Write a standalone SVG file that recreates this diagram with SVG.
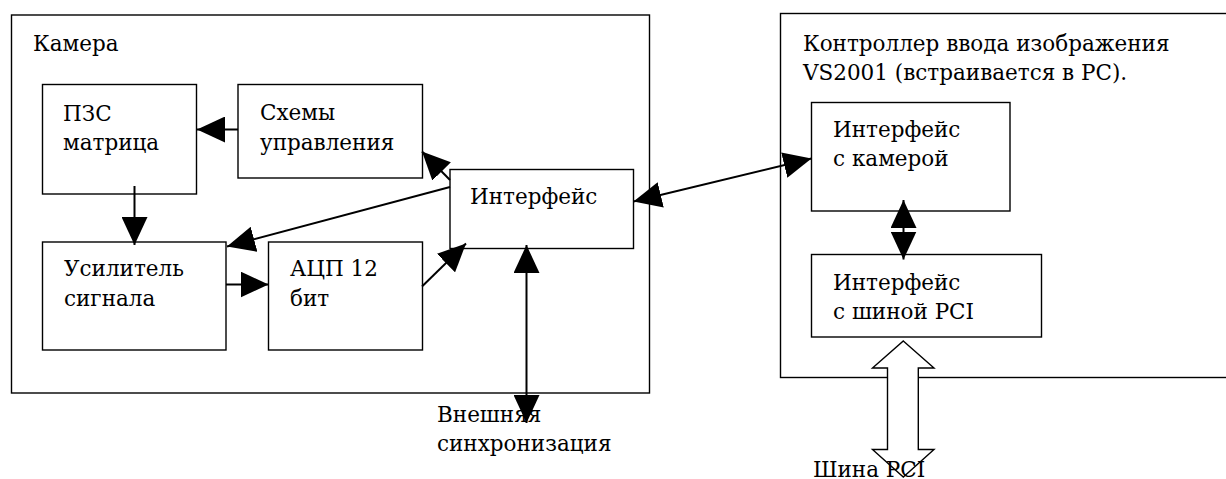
<svg xmlns="http://www.w3.org/2000/svg" width="1226" height="479" viewBox="0 0 1226 479">
<style>
.box{fill:none;stroke:#000;stroke-width:1.4}
.t{font-family:'DejaVu Serif',serif;font-size:21.5px;fill:#000}
.c{fill:none;stroke:#000;stroke-width:2}
</style>
<defs>
<marker id="ah" markerUnits="userSpaceOnUse" markerWidth="28" markerHeight="26" refX="28" refY="13" orient="auto-start-reverse" viewBox="0 0 28 26">
<path d="M0,0 L28,13 L0,26 z" fill="#000"/>
</marker>
</defs>
<rect width="1226" height="479" fill="#fff"/>
<g id="camera">
<rect class="box" x="11.5" y="15" width="638" height="378"/>
<text class="t" x="33" y="51">Камера</text>
</g>
<g id="controller">
<rect class="box" x="780.5" y="13.5" width="460" height="364"/>
<text class="t" x="803" y="51">Контроллер ввода изображения</text>
<text class="t" x="803" y="80">VS2001 (встраивается в PC).</text>
</g>
<g id="ccd">
<rect class="box" x="42.5" y="84.5" width="154" height="109.5"/>
<text class="t" x="63" y="121">ПЗС</text>
<text class="t" x="63" y="150">матрица</text>
</g>
<g id="control">
<rect class="box" x="238" y="84.5" width="184.5" height="93.5"/>
<text class="t" x="260" y="120">Схемы</text>
<text class="t" x="260" y="150">управления</text>
</g>
<g id="interface">
<rect class="box" x="450" y="169.5" width="183.5" height="79"/>
<text class="t" x="470" y="204">Интерфейс</text>
</g>
<g id="amp">
<rect class="box" x="42.5" y="242" width="183.5" height="108"/>
<text class="t" x="64" y="276">Усилитель</text>
<text class="t" x="64" y="306">сигнала</text>
</g>
<g id="adc">
<rect class="box" x="268.5" y="242" width="154" height="108"/>
<text class="t" x="290" y="276">АЦП 12</text>
<text class="t" x="290" y="306">бит</text>
</g>
<g id="cam-iface">
<rect class="box" x="811.5" y="102.5" width="198.5" height="108.5"/>
<text class="t" x="833" y="137">Интерфейс</text>
<text class="t" x="833" y="166">с камерой</text>
</g>
<g id="pci-iface">
<rect class="box" x="811.5" y="254.5" width="230" height="82.5"/>
<text class="t" x="833" y="290">Интерфейс</text>
<text class="t" x="833" y="319">с шиной PCI</text>
</g>
<g id="sync-label">
<text class="t" x="437" y="422">Внешняя</text>
<text class="t" x="437" y="451">синхронизация</text>
</g>
<g id="connectors">
<line class="c" x1="238" y1="129.5" x2="197" y2="129.5" stroke-width="3" marker-end="url(#ah)"/>
<line class="c" x1="134.5" y1="186" x2="134.5" y2="245" marker-end="url(#ah)"/>
<line class="c" x1="450" y1="180" x2="422" y2="151.5" marker-end="url(#ah)"/>
<line class="c" x1="450" y1="187" x2="227" y2="246.5" marker-end="url(#ah)"/>
<line class="c" x1="226" y1="284.5" x2="268.5" y2="284.5" marker-end="url(#ah)"/>
<line class="c" x1="422" y1="286.5" x2="466" y2="243.5" marker-end="url(#ah)"/>
<line class="c" x1="526.5" y1="245" x2="526.5" y2="423" stroke-width="2.6" marker-start="url(#ah)" marker-end="url(#ah)"/>
<line class="c" x1="633.5" y1="201.5" x2="811.5" y2="158.5" marker-start="url(#ah)" marker-end="url(#ah)"/>
<line class="c" x1="903.5" y1="200" x2="903.5" y2="259.5" stroke-width="1.5" marker-start="url(#ah)" marker-end="url(#ah)"/>
<polygon points="903.3,341 934,368 918.3,368 918.3,449.5 934,449.5 903.3,477 872.5,449.5 887.5,449.5 887.5,368 872.5,368" fill="#fff" stroke="#000" stroke-width="1.4"/>
</g>
<g id="pci-label">
<text class="t" x="813" y="477">Шина PCI</text>
</g>
</svg>
